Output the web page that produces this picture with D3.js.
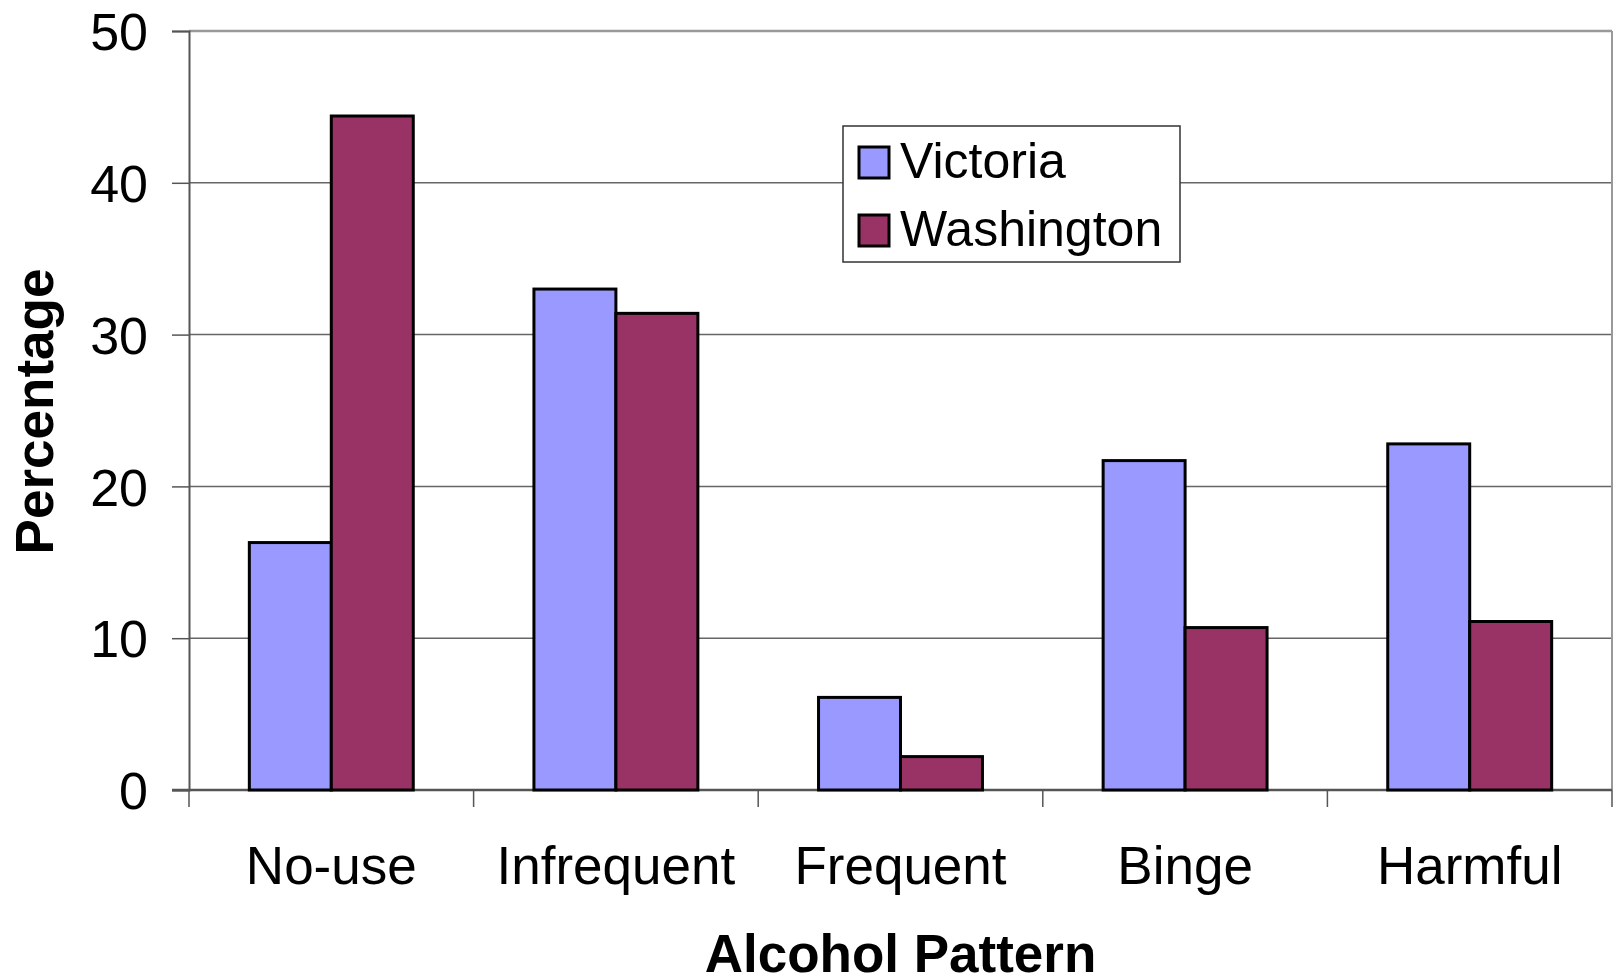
<!DOCTYPE html>
<html>
<head>
<meta charset="utf-8">
<script src="https://cdn.jsdelivr.net/npm/d3@7"></script>
<style>
  body { margin: 0; background: #fff; }
  text { font-family: "Liberation Sans", Arial, sans-serif; fill: #000; }
</style>
</head>
<body>
<script>
  // chart data
  let categories = ["No-use", "Infrequent", "Frequent", "Binge", "Harmful"];
  let seriesNames = ["Victoria", "Washington"];
  let victoria = [16.3, 33.0, 6.1, 21.7, 22.8];
  let washington = [44.4, 31.4, 2.2, 10.7, 11.1];
  let yTicks = [0, 10, 20, 30, 40, 50];
  let colors = ["#9999ff", "#993366"];

  let width = 1613, height = 977;
  let margin = {top: 31, right: 1, bottom: 187, left: 189};
  let innerW = width - margin.left - margin.right;
  let innerH = height - margin.top - margin.bottom;

  let svg = d3.select("body").append("svg")
      .attr("width", width)
      .attr("height", height);

  let g = svg.append("g")
      .attr("transform", "translate(" + margin.left + "," + margin.top + ")");

  let xScale = d3.scaleBand()
      .domain(categories)
      .range([0, innerW])
      .padding(0);

  // two bars per group, about 58% of the band
  let x1 = d3.scaleBand()
      .domain(seriesNames)
      .range([xScale.bandwidth() * 0.212, xScale.bandwidth() * 0.788])
      .padding(0);

  let yScale = d3.scaleLinear()
      .domain([0, 50])
      .range([innerH, 0]);

  // gridlines
  g.selectAll(".grid")
      .data(yTicks.filter(d => d > 0))
      .enter().append("line")
      .attr("x1", 0).attr("x2", innerW)
      .attr("y1", d => yScale(d)).attr("y2", d => yScale(d))
      .attr("stroke", d => d === 50 ? "#999" : "#666")
      .attr("stroke-width", d => d === 50 ? 2.5 : 1.5);

  // right border
  g.append("line")
      .attr("x1", innerW).attr("x2", innerW)
      .attr("y1", 0).attr("y2", innerH)
      .attr("stroke", "#999").attr("stroke-width", 2);

  // y axis
  let yAxis = d3.axisLeft(yScale).tickValues(yTicks).tickSize(17).tickPadding(24);
  let yG = g.append("g").call(yAxis);
  yG.select(".domain").attr("stroke", "#555").attr("stroke-width", 2);
  yG.selectAll(".tick line").attr("stroke", "#555").attr("stroke-width", 1.5);
  yG.selectAll(".tick text")
      .style("font-size", "52px")
      .attr("dy", "0.36em")
      .attr("fill", "#000");

  // x axis
  let xG = g.append("g").attr("transform", "translate(0," + innerH + ")");
  xG.append("line")
      .attr("x1", -17).attr("x2", innerW)
      .attr("stroke", "#555").attr("stroke-width", 2.5);
  xG.selectAll(".xtick")
      .data(categories.concat(["end"]))
      .enter().append("line")
      .attr("x1", (d, i) => i * xScale.step())
      .attr("x2", (d, i) => i * xScale.step())
      .attr("y1", 0).attr("y2", 17)
      .attr("stroke", "#555").attr("stroke-width", 1.5);
  xG.selectAll(".xlabel")
      .data(categories)
      .enter().append("text")
      .attr("x", d => xScale(d) + xScale.bandwidth() / 2)
      .attr("y", 94)
      .attr("text-anchor", "middle")
      .style("font-size", "53px")
      .text(d => d);

  // bars
  let groups = g.selectAll(".grp")
      .data(categories)
      .enter().append("g")
      .attr("transform", d => "translate(" + xScale(d) + ",0)");

  groups.selectAll("rect")
      .data((d, i) => [victoria[i], washington[i]].map((v, j) => ({s: seriesNames[j], v: v, c: colors[j]})))
      .enter().append("rect")
      .attr("x", d => x1(d.s))
      .attr("y", d => yScale(d.v))
      .attr("width", x1.bandwidth())
      .attr("height", d => innerH - yScale(d.v))
      .attr("fill", d => d.c)
      .attr("stroke", "#000")
      .attr("stroke-width", 3);

  // axis titles
  svg.append("text")
      .attr("x", margin.left + innerW / 2)
      .attr("y", 972)
      .attr("text-anchor", "middle")
      .style("font-size", "53px")
      .style("font-weight", "bold")
      .text("Alcohol Pattern");

  svg.append("text")
      .attr("transform", "translate(53," + (margin.top + innerH / 2 + 1) + ") rotate(-90)")
      .attr("text-anchor", "middle")
      .style("font-size", "53px")
      .style("font-weight", "bold")
      .text("Percentage");

  // legend
  let legend = svg.append("g").attr("transform", "translate(843,126)");
  legend.append("rect")
      .attr("width", 337).attr("height", 136)
      .attr("fill", "#fff")
      .attr("stroke", "#333").attr("stroke-width", 1.5);
  seriesNames.forEach(function(name, i) {
    legend.append("rect")
        .attr("x", 16).attr("y", 21 + i * 68)
        .attr("width", 30).attr("height", 31)
        .attr("fill", colors[i])
        .attr("stroke", "#000").attr("stroke-width", 3);
    legend.append("text")
        .attr("x", 57).attr("y", 52 + i * 68)
        .style("font-size", "50px")
        .text(name);
  });
</script>
</body>
</html>
